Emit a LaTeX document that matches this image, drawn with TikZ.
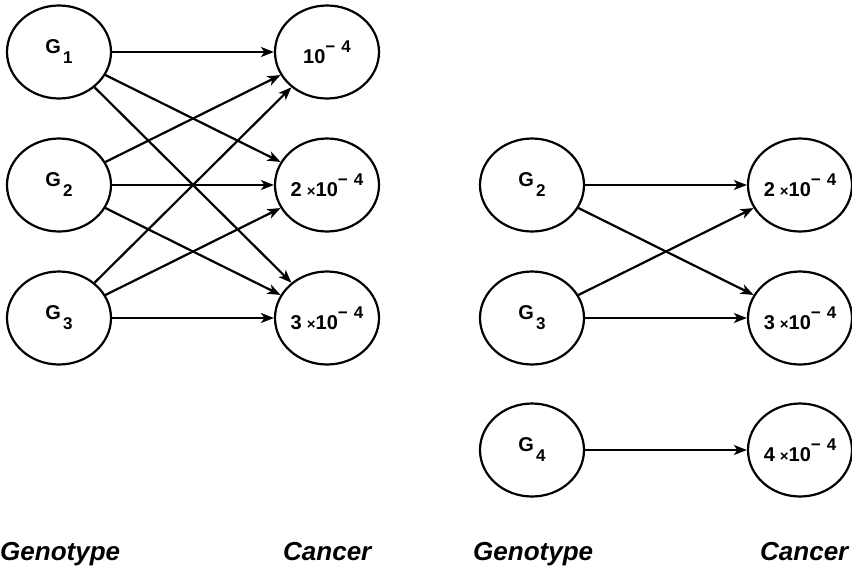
\documentclass[tikz,border=0pt]{standalone}
\usepackage{fontspec}
\setmainfont{Liberation Sans}
\usetikzlibrary{shapes.geometric,arrows.meta}
\newcommand\gsub[1]{G\hspace{2pt}\raisebox{-10pt}{\fontsize{17}{17}\selectfont #1}}
\newcommand\tenm{10\raisebox{11pt}{\fontsize{17}{17}\selectfont −\hspace{6pt}4}}
\newcommand\tms{\hspace{5pt}{\fontsize{15}{15}\selectfont ×}}
\begin{document}
\begin{tikzpicture}[x=1pt,y=-1pt,
 st/.style={ellipse,draw,line width=2.2pt,minimum width=104pt,minimum height=93pt,inner sep=0pt,font=\fontsize{20}{20}\selectfont\bfseries},
 arr/.style={line width=2.2pt,-{Stealth[length=13pt,width=10pt,inset=3.5pt]}},
 lab/.style={anchor=base west,inner sep=0pt,font=\fontsize{26}{26}\selectfont\bfseries\itshape}]
\useasboundingbox (0,0) rectangle (852,568);
% left panel
\node[st] (a1) at (59,52) {\gsub{1}};
\node[st] (a2) at (59,185) {\gsub{2}};
\node[st] (a3) at (59,318) {\gsub{3}};
\node[st] (b1) at (327,52) {\tenm};
\node[st] (b2) at (327,185) {2\tms\tenm};
\node[st] (b3) at (327,318) {3\tms\tenm};
\foreach \i in {1,2,3}{\foreach \j in {1,2,3}{\draw[arr] (a\i) -- (b\j);}}
% right panel
\node[st] (c2) at (532,185) {\gsub{2}};
\node[st] (c3) at (532,318) {\gsub{3}};
\node[st] (c4) at (532,450) {\gsub{4}};
\node[st] (d2) at (800,185) {2\tms\tenm};
\node[st] (d3) at (800,318) {3\tms\tenm};
\node[st] (d4) at (800,450) {4\tms\tenm};
\draw[arr] (c2) -- (d2);
\draw[arr] (c2) -- (d3);
\draw[arr] (c3) -- (d2);
\draw[arr] (c3) -- (d3);
\draw[arr] (c4) -- (d4);
% labels
\node[lab] (l1) at (0,560) {Genotype};
\node[lab] (l2) at (283,560) {Cancer};
\node[lab] (l3) at (473,560) {Genotype};
\node[lab] (l4) at (760,560) {Cancer};
\end{tikzpicture}
\end{document}
